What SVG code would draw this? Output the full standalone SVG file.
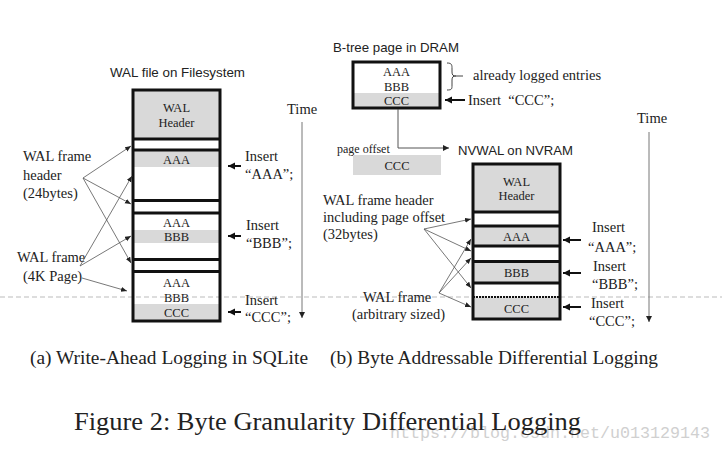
<svg xmlns="http://www.w3.org/2000/svg" width="722" height="452" viewBox="0 0 722 452">
<style>
.s{font-family:"Liberation Serif","Times New Roman",serif;fill:#222}
.ss{font-family:"Liberation Sans",Arial,sans-serif;fill:#222}
.bt{font-size:12.5px;text-anchor:middle}
.lb{font-size:14.5px}
.g{fill:#d9d9d9}
.box{fill:none;stroke:#111;stroke-width:3}
.sep{stroke:#111;stroke-width:3}
.cn{stroke:#555;stroke-width:0.8;fill:none}
.ins{stroke:#111;stroke-width:2;fill:none}
</style>
<defs>
<marker id="ah" markerUnits="userSpaceOnUse" markerWidth="8" markerHeight="8" refX="7" refY="3.5" orient="auto"><path d="M0,0 L7,3.5 L0,7 z" fill="#111"/></marker>
<marker id="sa" markerUnits="userSpaceOnUse" markerWidth="7" markerHeight="6" refX="6" refY="2.5" orient="auto"><path d="M0,0 L6,2.5 L0,5 z" fill="#222"/></marker>
<marker id="ta" markerUnits="userSpaceOnUse" markerWidth="8" markerHeight="8" refX="6" refY="3" orient="auto"><path d="M0,0 L6,3 L0,6 z" fill="#222"/></marker>
</defs>
<rect width="722" height="452" fill="#fff"/>

<line x1="0" y1="297" x2="722" y2="297" stroke="#bbb" stroke-width="1" stroke-dasharray="5,3"/>

<!-- Left: WAL file on Filesystem -->
<g id="wal-file">
<text class="ss" x="177.5" y="77" font-size="13" text-anchor="middle" textLength="135" lengthAdjust="spacingAndGlyphs">WAL file on Filesystem</text>
<rect class="g" x="133" y="90" width="87" height="49"/>
<rect class="g" x="133" y="151" width="87" height="16"/>
<rect class="g" x="133" y="230" width="87" height="13"/>
<rect class="g" x="133" y="304" width="87" height="17"/>
<line class="sep" x1="133" y1="139" x2="220" y2="139"/>
<line class="sep" x1="133" y1="150" x2="220" y2="150"/>
<line class="sep" x1="133" y1="200.5" x2="220" y2="200.5"/>
<line class="sep" x1="133" y1="213" x2="220" y2="213"/>
<line class="sep" x1="133" y1="259.5" x2="220" y2="259.5"/>
<line class="sep" x1="133" y1="271.5" x2="220" y2="271.5"/>
<rect class="box" x="133" y="90" width="87" height="231"/>
<text class="s bt" x="176.5" y="112">WAL</text>
<text class="s bt" x="176.5" y="127">Header</text>
<text class="s bt" x="176.5" y="164">AAA</text>
<text class="s bt" x="176.5" y="227">AAA</text>
<text class="s bt" x="176.5" y="241">BBB</text>
<text class="s bt" x="176.5" y="287">AAA</text>
<text class="s bt" x="176.5" y="302">BBB</text>
<text class="s bt" x="176.5" y="317">CCC</text>
</g>

<g id="left-labels">
<text class="s lb" x="23" y="161">WAL frame</text>
<text class="s lb" x="23" y="180">header</text>
<text class="s lb" x="23" y="198">(24bytes)</text>
<text class="s lb" x="17" y="262">WAL frame</text>
<text class="s lb" x="23" y="281">(4K Page)</text>
</g>

<g id="left-inserts">
<text class="s lb" x="245" y="161">Insert</text>
<text class="s lb" x="245" y="179">“AAA”;</text>
<text class="s lb" x="246" y="230">Insert</text>
<text class="s lb" x="246" y="248">“BBB”;</text>
<text class="s lb" x="245" y="305">Insert</text>
<text class="s lb" x="245" y="322">“CCC”;</text>
</g>

<g id="time-left">
<text class="s lb" x="287" y="114">Time</text>
</g>

<!-- Right: B-tree page -->
<g id="btree">
<text class="ss" x="333" y="52" font-size="13" textLength="126" lengthAdjust="spacingAndGlyphs">B-tree page in DRAM</text>
<rect class="g" x="353" y="93" width="87" height="15"/>
<rect class="box" x="353" y="62" width="87" height="46"/>
<text class="s bt" x="396.5" y="76">AAA</text>
<text class="s bt" x="396.5" y="91">BBB</text>
<text class="s bt" x="396.5" y="105">CCC</text>
<path d="M447,63 C452,63 452,65 452,69 L452,72 C452,75 453,76 456,76 L463,76 M456,76 C453,76 452,77 452,80 L452,85 C452,89 452,90 447,90" stroke="#444" stroke-width="1" fill="none"/>
<text class="s lb" x="473" y="80">already logged entries</text>
<text class="s lb" x="468" y="105" xml:space="preserve">Insert  “CCC”;</text>
</g>

<g id="page-offset">
<text class="s" x="337" y="153" font-size="12">page offset</text>
<rect class="g" x="353" y="155" width="88" height="20"/>
<text class="s bt" x="397" y="170">CCC</text>
</g>

<!-- Right: NVWAL -->
<g id="nvwal">
<text class="ss" x="458" y="155" font-size="13" textLength="115" lengthAdjust="spacingAndGlyphs">NVWAL on NVRAM</text>
<rect class="g" x="473" y="164" width="87" height="47"/>
<rect class="g" x="473" y="227" width="87" height="18"/>
<rect class="g" x="473" y="263" width="87" height="19"/>
<rect class="g" x="473" y="298" width="87" height="21"/>
<line class="sep" x1="473" y1="212" x2="560" y2="212"/>
<line class="sep" x1="473" y1="226" x2="560" y2="226"/>
<line class="sep" x1="473" y1="246" x2="560" y2="246"/>
<line class="sep" x1="473" y1="261.5" x2="560" y2="261.5"/>
<line class="sep" x1="473" y1="283" x2="560" y2="283"/>
<line x1="473" y1="297" x2="560" y2="297" stroke="#111" stroke-width="2" stroke-dasharray="2,1"/>
<rect class="box" x="473" y="164" width="87" height="155"/>
<text class="s bt" x="516.5" y="186">WAL</text>
<text class="s bt" x="516.5" y="200">Header</text>
<text class="s bt" x="516.5" y="241">AAA</text>
<text class="s bt" x="516.5" y="277">BBB</text>
<text class="s bt" x="516.5" y="313">CCC</text>
</g>

<g id="right-labels">
<text class="s lb" x="323" y="205">WAL frame header</text>
<text class="s lb" x="323" y="222">including page offset</text>
<text class="s lb" x="323" y="239">(32bytes)</text>
<text class="s lb" x="363" y="302">WAL frame</text>
<text class="s lb" x="352" y="319">(arbitrary sized)</text>
</g>

<g id="right-inserts">
<text class="s lb" x="592" y="232">Insert</text>
<text class="s lb" x="588" y="252">“AAA”;</text>
<text class="s lb" x="593" y="271">Insert</text>
<text class="s lb" x="592" y="289">“BBB”;</text>
<text class="s lb" x="591" y="308">Insert</text>
<text class="s lb" x="589" y="326">“CCC”;</text>
</g>

<g id="time-right">
<text class="s lb" x="637" y="123">Time</text>
</g>

<g id="connectors">
<!-- left label connectors -->
<line class="cn" x1="83" y1="178" x2="131" y2="146" marker-end="url(#sa)"/>
<line class="cn" x1="83" y1="178" x2="131" y2="204" marker-end="url(#sa)"/>
<line class="cn" x1="83" y1="178" x2="131" y2="263" marker-end="url(#sa)"/>
<line class="cn" x1="80" y1="266" x2="132" y2="176" marker-end="url(#sa)"/>
<line class="cn" x1="80" y1="266" x2="131" y2="236" marker-end="url(#sa)"/>
<line class="cn" x1="82" y1="278" x2="127" y2="291" marker-end="url(#sa)"/>
<!-- right label connectors -->
<line class="cn" x1="424" y1="229" x2="471" y2="219" marker-end="url(#sa)"/>
<line class="cn" x1="424" y1="229" x2="471" y2="251" marker-end="url(#sa)"/>
<line class="cn" x1="424" y1="229" x2="471" y2="288" marker-end="url(#sa)"/>
<line class="cn" x1="439" y1="293" x2="471" y2="239" marker-end="url(#sa)"/>
<line class="cn" x1="439" y1="293" x2="471" y2="258" marker-end="url(#sa)"/>
<line class="cn" x1="439" y1="293" x2="471" y2="307" marker-end="url(#sa)"/>
<!-- insert arrows -->
<line class="ins" x1="241" y1="166" x2="228" y2="166" marker-end="url(#ah)"/>
<line class="ins" x1="241" y1="236" x2="228" y2="236" marker-end="url(#ah)"/>
<line class="ins" x1="241" y1="312" x2="228" y2="312" marker-end="url(#ah)"/>
<line class="ins" x1="465" y1="100" x2="445" y2="100" marker-end="url(#ah)"/>
<line class="ins" x1="581" y1="240" x2="563" y2="240" marker-end="url(#ah)"/>
<line class="ins" x1="581" y1="273" x2="563" y2="273" marker-end="url(#ah)"/>
<line class="ins" x1="581" y1="307" x2="563" y2="307" marker-end="url(#ah)"/>
<!-- B-tree to NVWAL -->
<polyline points="398,109 398,148 449,148" stroke="#555" stroke-width="1" fill="none" marker-end="url(#ta)"/>
<!-- time arrows -->
<line x1="302" y1="122" x2="302" y2="318" stroke="#777" stroke-width="1" marker-end="url(#ta)"/>
<line x1="649" y1="132" x2="649" y2="322" stroke="#777" stroke-width="1" marker-end="url(#ta)"/>
</g>

<g id="captions">
<text class="s" x="30" y="364" font-size="18" textLength="278" lengthAdjust="spacingAndGlyphs">(a) Write-Ahead Logging in SQLite</text>
<text class="s" x="330" y="364" font-size="18" textLength="328" lengthAdjust="spacingAndGlyphs">(b) Byte Addressable Differential Logging</text>
<text x="390" y="438" font-family="Liberation Mono, monospace" font-size="16" fill="#d0d0d0" textLength="320" lengthAdjust="spacingAndGlyphs">https://blog.csdn.net/u013129143</text>
<text class="s" x="74" y="430" font-size="25" textLength="507" lengthAdjust="spacingAndGlyphs">Figure 2: Byte Granularity Differential Logging</text>
</g>
</svg>
